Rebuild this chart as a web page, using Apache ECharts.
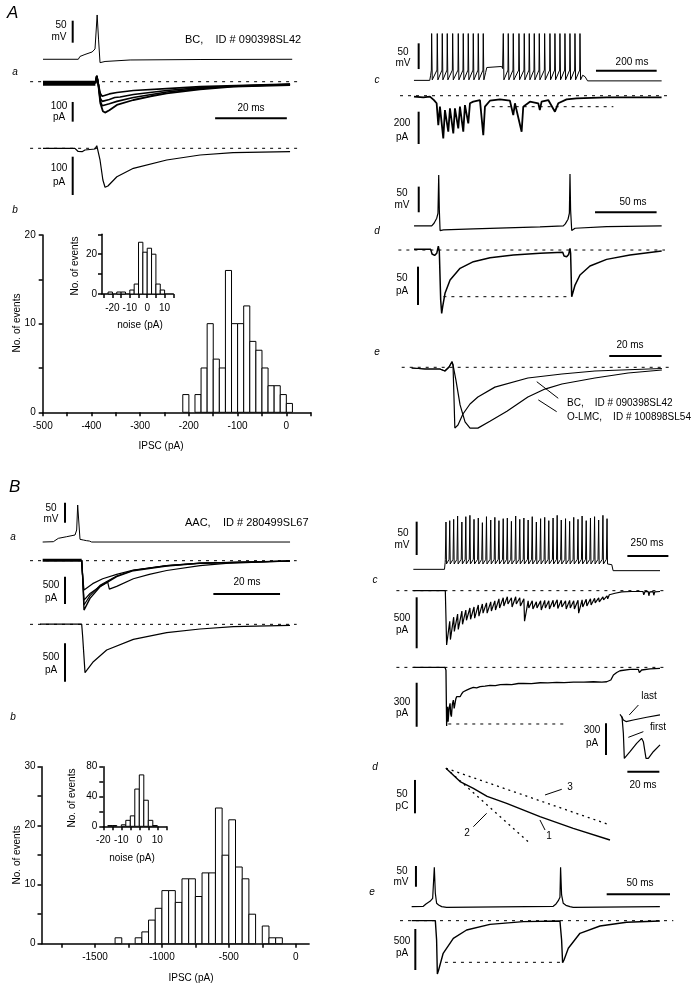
<!DOCTYPE html>
<html><head><meta charset="utf-8">
<script src="https://cdn.jsdelivr.net/npm/echarts@6/dist/echarts.min.js"></script>
<style>html,body{margin:0;padding:0;background:#fff}#c{width:696px;height:993px}</style>
</head><body><div id="c"></div>
<script>
// ================= DATA =================
// --- Histogram A (BC cell): IPSC amplitudes (pA), 12.5 pA bins
const histA_binStart = [-212.5,-200,-187.5,-175,-162.5,-150,-137.5,-125,-112.5,-100,-87.5,-75,-62.5,-50,-37.5,-25,-12.5,0];
const histA_counts   = [2,0,2,5,10,6,5,16,10,10,12,8,7,5,3,3,2,1];
const histA_binWidth = 12.5;
// --- Inset A: noise (pA), 2.5 pA bins
const noiseA_binStart = [-25,-22.5,-20,-17.5,-15,-12.5,-10,-7.5,-5,-2.5,0,2.5,5,7.5,10];
const noiseA_counts   = [0,1,0,1,1,0,2,5,26,21,23,20,5,2,0];
const noiseA_binWidth = 2.5;
// --- Histogram B (AAC cell): IPSC amplitudes (pA), 50 pA bins
const histB_binStart = [-1350,-1300,-1250,-1200,-1150,-1100,-1050,-1000,-950,-900,-850,-800,-750,-700,-650,-600,-550,-500,-450,-400,-350,-300,-250,-200,-150];
const histB_counts   = [1,0,0,1,2,4,6,9,9,7,11,11,8,12,12,23,15,21,13,11,5,0,3,1,1];
const histB_binWidth = 50;
// --- Inset B: noise (pA), 2.5 pA bins
const noiseB_binStart = [-20,-17.5,-15,-12.5,-10,-7.5,-5,-2.5,0,2.5,5,7.5,10,12.5];
const noiseB_counts   = [0,1,1,0,2,8,14,50,69,35,8,1,0,0];
const noiseB_binWidth = 2.5;

// tick label values
const histA_xLabels = [-500,-400,-300,-200,-100,0];
const histA_yLabels = [0,10,20];
const noiseA_xLabels = [-20,-10,0,10];
const noiseA_yLabels = [0,20];
const histB_xTicks  = [-1750,-1500,-1250,-1000,-750,-500,-250,0];
const histB_xLabels = [-1500,-1000,-500,0];
const histB_yLabels = [0,10,20,30];
const noiseB_xLabels = [-20,-10,0,10];
const noiseB_yLabels = [0,40,80];

// --- A a: BC presynaptic spike (ms, mV) and unitary IPSCs (ms, pA)
const A_a_V = [[0,-65],[9.85,-65],[10.3,-58.6],[11.7,-54.1],[13.7,-48.4],[14.5,-41.6],[15.1,35.7],[15.5,-21],[15.9,-72.7],[17.3,-70],[24.3,-66.6],[43.8,-65.5],[69.5,-65]];
const A_a_Ipre = [[0,-8],[14.6,-8]];
const A_a_I1 = [[14.6,-8],[15,29],[15.4,-10],[16,-110],[16.7,-150],[17.3,-157],[18.5,-145],[20.6,-118],[25.2,-93],[30,-74],[34.5,-59],[43.8,-39],[53.1,-25],[68.9,-17]];
const A_a_I2 = [[14.6,-8],[15,29],[15.4,-10],[16,-100],[16.5,-122],[17,-127],[18.5,-112],[20.6,-100],[25.2,-80],[34.5,-52],[43.8,-35],[53.1,-22],[68.9,-15]];
const A_a_I3 = [[14.6,-8],[15,29],[15.4,-10],[16,-85],[16.5,-100],[17,-102],[18.5,-90],[20,-80],[21.5,-78],[22,-88],[25.2,-65],[34.5,-45],[43.8,-30],[68.9,-13]];
const A_a_I4 = [[14.6,-8],[15,29],[15.4,-10],[16,-60],[16.5,-74],[17,-76],[18.5,-62],[20.6,-55],[25.2,-45],[34.5,-35],[43.8,-25],[68.9,-12]];
// --- A b: averaged IPSC (ms, pA)
const A_b_I = [[0,0],[8.9,0],[9.8,-8.4],[10.9,-8.9],[11.7,-4.4],[14.5,-1.8],[15,6.8],[15.3,3.4],[15.9,-30.5],[16.7,-82.8],[17.3,-101.8],[18.1,-98.4],[20.6,-74.2],[25.2,-52.2],[34.5,-30.5],[43.8,-17.5],[53,-11.5],[68.9,-8.9]];
// --- A c: burst firing (spike times, ms) and IPSCs (ms, pA)
const A_c_spikes1 = [58.3,76.8,93.3,109.7,127.5,146,162.4,178.9,195.4,211.9,228.3];
const A_c_spikes2 = [294.3,310.7,327.2,346,363.4,379.9,396.4,412.9,430.6,448.1,464.5,481,497.5,514,530.5,547];
const A_c_spikePeak = 26, A_c_threshold = -45, A_c_ahp = -64, A_c_rest = -65, A_c_plateau = -38;
const A_c_I = [[0,-6],[30.7,-10],[52.7,-6],[65.9,-27],[74.7,-47],[80.2,-182],[85.6,-68],[96.6,-264],[102.1,-89],[113.1,-223],[118.6,-78],[129.6,-233],[135,-78],[146,-202],[151.5,-68],[162.5,-223],[168,-58],[179,-171],[184.5,-47],[195.4,-37],[217.4,-27],[228.4,-244],[233.9,-68],[250.3,-31],[283.3,-23],[316.2,-31],[327.2,-120],[332.7,-47],[354.7,-223],[360.1,-68],[382.1,-37],[409.6,-47],[414.7,-89],[420.5,-37],[442.5,-27],[464.5,-99],[475.4,-47],[502.9,-23],[535.8,-17],[634.6,-10],[744.4,-10],[815.8,-10]];
// --- A d: paired spikes (ms, mV) and IPSCs (ms, pA)
const A_d_V = [[0,-65],[14.3,-65],[16.2,-59.8],[18.4,-50],[19.4,-40.3],[20,34.4],[20.5,-33.8],[21.1,-74.1],[23.8,-72.8],[48.1,-70.8],[75.1,-68.9],[102.1,-66.9],[121,-65],[122.6,-61.1],[124.8,-52],[125.9,-40.3],[126.4,36.3],[126.9,-33.8],[127.8,-74.1],[130.5,-69.5],[156.1,-66.3],[200.7,-65]];
const A_d_I = [[0,0.9],[13.5,0.9],[14.6,-5.2],[16.7,-7],[18.4,-4.3],[19.7,5.2],[20.5,-2.2],[21.6,-65.2],[22.4,-82.6],[23.2,-73.9],[25.1,-56.5],[29.2,-39.1],[37.3,-23.9],[48.1,-15.2],[61.6,-10],[80.5,-6.5],[102.1,-4.3],[120.5,-3],[121.6,-7.8],[123.7,-8.7],[125.3,-5.7],[126.4,2.2],[126.9,-4.3],[127.8,-60.9],[129.1,-58.7],[130.5,-45.7],[134.5,-32.6],[142.6,-20.9],[156.1,-12.2],[175,-6.5],[200.7,-1.3]];
// --- A e: normalised IPSCs, BC vs O-LMC (ms, normalised)
const A_e_BC = [[0,-0.011],[5.1,-0.027],[10.8,-0.027],[12.7,-0.059],[14.3,0.005],[15.4,0.089],[15.8,0.037],[16.2,-0.52],[16.5,-0.97],[17.7,-0.92],[19.6,-0.745],[22.3,-0.585],[25.3,-0.474],[31.8,-0.316],[44.4,-0.171],[57.4,-0.107],[70,-0.059],[95.6,-0.019]];
const A_e_OLMC = [[0,-0.011],[5.1,-0.027],[10.8,-0.027],[12.7,-0.059],[14.3,0.005],[15.4,0.089],[15.8,0.037],[16.9,-0.2],[18.5,-0.6],[20.4,-0.87],[22.3,-0.97],[25.3,-0.97],[29.9,-0.86],[36.4,-0.7],[44.4,-0.474],[50.9,-0.347],[57.4,-0.266],[70,-0.171],[82.7,-0.091],[95.6,-0.043]];

// --- B a: AAC spike (ms, mV) and unitary IPSCs (ms, pA)
const B_a_V = [[0,-65],[3.2,-64.2],[4.7,-55.8],[7.2,-51.7],[9.7,-47.5],[10.2,-35],[10.5,27.5],[10.8,-10],[11.2,-58.3],[12.2,-60],[13.2,-61.7],[14,-62.5],[14.7,-65],[74.2,-65]];
const B_a_Ipre = [[0,6],[11.7,6]];
const B_a_I1 = [[11.7,6],[12,-300],[12.4,-903],[14.2,-689],[17.2,-476],[22.2,-293],[27.2,-183],[37.2,-98],[47.2,-49],[74.2,-6]];
const B_a_I2 = [[11.7,6],[12,-300],[12.4,-811],[14.2,-640],[17.2,-450],[22.2,-280],[27.2,-175],[37.2,-92],[47.2,-45],[74.2,-6]];
const B_a_I3 = [[11.7,6],[12,-300],[12.4,-720],[14.2,-600],[17.2,-470],[19.5,-390],[20,-520],[22.2,-470],[27.2,-330],[32,-250],[37.2,-180],[47.2,-90],[55,-50],[74.2,-6]];
const B_a_I4 = [[11.7,6],[12,-300],[12.4,-537],[15,-420],[18,-330],[22.2,-250],[27.2,-170],[37.2,-92],[47.2,-45],[74.2,-6]];
// --- B b: averaged IPSC (ms, pA)
const B_b_I = [[-0.8,4],[11.7,4],[12,-161],[12.7,-630],[13.2,-604],[15.2,-487],[19.2,-335],[27.2,-196],[37.2,-109],[47.2,-61],[57.2,-30],[74.2,-13]];
// --- B c: long burst (spike times ms, peaks mV) and IPSCs
const B_c_spikes = [199,222,246,270,296,320,345,370,396,421,446,472,497,522,548,573,598,624,649,674,700,725,750,776,801,826,852,877,902,928,953,978,1004,1029,1054,1080,1105,1130,1156,1181];
const B_c_peaks  = [6,8,10,15,6,14,16,10,12,5,14,9,13,8,11,12,7,15,10,12,9,14,6,11,13,8,12,16,9,11,7,13,10,15,8,12,14,9,16,11];
const B_c_rest = -65, B_c_threshold = -50, B_c_ahp = -57, B_c_after = -67;
const B_c1_pre  = [0,-300,-260,-230,-200,-190,-170,-160,-140,-130,-120,-110,-100,-80,-70,-60,-70,-60,-70,-80,-100,-100,-110,-100,-95,-100,-95,-90,-95,-100,-95,-100,-95,-90,-85,-80,-75,-70,-60,-50];
const B_c1_peak = [-533,-480,-400,-380,-330,-290,-280,-270,-250,-220,-220,-200,-190,-170,-150,-130,-160,-130,-150,-300,-170,-180,-170,-190,-170,-180,-160,-175,-160,-180,-170,-180,-220,-160,-150,-140,-120,-110,-90,-80];
const B_c1_tail = [[1195,-40],[1230,-25],[1270,-12],[1330,-8],[1400,-8],[1405,-40],[1412,-10],[1432,-10],[1436,-50],[1442,-12],[1462,-10],[1466,-45],[1472,-12],[1504,-8]];
const B_c2_I = [[0,0],[193,0],[199,-20],[203,-400],[206,-300],[209,-268],[212,-370],[215,-382],[218,-280],[224,-245],[228,-320],[232,-336],[238,-250],[244,-223],[249,-280],[254,-291],[259,-215],[264,-200],[275,-210],[285,-200],[295,-180],[305,-166],[315,-170],[325,-155],[345,-145],[366,-136],[386,-140],[407,-132],[437,-128],[468,-123],[500,-125],[530,-117],[569,-116],[600,-118],[640,-110],[671,-109],[720,-111],[773,-105],[820,-106],[874,-102],[920,-104],[976,-100],[1040,-101],[1098,-98],[1150,-100],[1179,-98],[1204,-86],[1220,-52],[1240,-35],[1260,-23],[1321,-14],[1372,-14],[1378,-36],[1384,-26],[1392,-18],[1443,-11],[1504,-7]];
const B_ci_last  = [[0,0],[1,-22],[2.1,-54],[3.75,-69],[8.3,-54],[16.7,-28],[25,-6]];
const B_ci_first = [[1.25,-22],[2.1,-180],[2.7,-417],[3.75,-417],[6.25,-354],[10.4,-275],[13.5,-227],[14.6,-259],[16.25,-417],[17.7,-417],[20.8,-354],[25,-290]];
// --- B d: cumulative charge (ms, pC)
const B_d_1 = [[199,0],[285,-20],[366,-30],[450,-42],[569,-52.5],[772,-72.6],[975,-90],[1199,-107.5]];
const B_d_2 = [[199,0],[711,-112.5]];
const B_d_3 = [[199,0],[1199,-85]];
// --- B e: paired spikes (ms, mV) and IPSCs (ms, pA)
const B_e_V = [[0,-65],[9.2,-64.2],[11.3,-58.5],[14.5,-52.1],[16.6,-44.8],[17.9,30.2],[18.7,-32.7],[19.7,-56.9],[21.3,-61],[23.7,-65],[27.6,-66.6],[111.8,-64.2],[114,-58.5],[115.8,-50.5],[117.1,-42.4],[117.6,30.2],[118.4,-36.8],[119.7,-56.9],[121.8,-61.8],[125,-65],[127.6,-66.6],[196,-65]];
const B_e_I = [[0,0],[18.7,0],[19.7,-236],[20.3,-650],[21.3,-602],[24.9,-398],[32.9,-215],[43.4,-114],[61.8,-45],[88.2,-12],[117.1,-4],[118.4,-236],[119.2,-512],[120.3,-480],[123.7,-337],[132.9,-154],[148.7,-65],[169.7,-20],[196,-4]];

// scale bars (data units)
const SB = {
  Aav:[[8.28,-27.3],[8.28,22.7]], Aai:[[8.28,-103],[8.28,-203]], Aat:[[48,-186],[68,-186]], Abi:[[8.28,-21.9],[8.28,-121.9]],
  Acv:[[15.5,-43],[15.5,7]], Act:[[599.7,-46.3],[799.7,-46.3]], Aci:[[15.4,-99],[15.4,-299]],
  Adv:[[3.8,-38.4],[3.8,11.6]], Adt:[[146.7,-38.4],[196.6,-38.4]], Adi:[[3.2,-21.7],[3.2,-71.7]],
  Aet:[[75.5,0.18],[95.5,0.18]],
  Bav:[[6.7,-16.7],[6.7,33.3]], Bai:[[6.7,-293],[6.7,-793]], Bat:[[51.2,-610],[71.2,-610]], Bbi:[[6.7,-248],[6.7,-748]],
  Bcv:[[20.3,-43.5],[20.3,6.5]], Bct:[[1305,-45],[1555,-45]], Bc1:[[20.3,-65],[20.3,-565]], Bc2:[[20.3,-105],[20.3,-405]],
  Bci:[[-8.75,-85],[-8.75,-385]], Bcit:[[4.6,-543],[24.6,-543]],
  Bd:[[10,-17.5],[10,-67.5]],
  Bev:[[3.4,-16.6],[3.4,33.4]], Bet:[[154,-35.2],[204,-35.2]], Bei:[[2.9,-102],[2.9,-602]]
};

// ================= LAYOUT =================
const FONT = '"Liberation Sans", Arial, Helvetica, sans-serif';
const P = {
  HA:  {left:42.7, top:235, width:268, height:177.3, xMin:-500, xMax:50, yMin:0, yMax:20},
  HAi: {left:102, top:234.3, width:71.3, height:59.7, xMin:-26, xMax:15, yMin:0, yMax:30},
  HB:  {left:41.5, top:766.7, width:267.6, height:177, xMin:-1900, xMax:100, yMin:0, yMax:30},
  HBi: {left:103.3, top:766.7, width:63, height:59.6, xMin:-20, xMax:15, yMin:0, yMax:80},
  Aav: {left:30.1, top:10, width:270, height:55, xMin:-3.6, xMax:71.7, yMin:-78, yMax:47},
  Aai: {left:30.1, top:75, width:270, height:50, xMin:-3.6, xMax:71.7, yMin:-220, yMax:34},
  Abi: {left:30.1, top:140, width:270, height:60, xMin:-3.6, xMax:71.7, yMin:-135, yMax:21.7},
  Acv: {left:400, top:27.9, width:268, height:57.1, xMin:-46, xMax:837, yMin:-74, yMax:37},
  Aci: {left:400, top:87.95, width:268, height:60.1, xMin:-46, xMax:837, yMin:-324, yMax:48},
  Adv: {left:398, top:170, width:270.2, height:64.9, xMin:-13, xMax:206, yMin:-82.5, yMax:44},
  Adi: {left:398, top:243.9, width:270.2, height:75.1, xMin:-13, xMax:206, yMin:-90, yMax:8},
  Ae:  {left:401.7, top:350, width:268.3, height:85, xMin:-3.8, xMax:98.7, yMin:-1.08, yMax:0.276},
  Bav: {left:30, top:500, width:266.7, height:46.7, xMin:-3.8, xMax:76.2, yMin:-76.7, yMax:40},
  Bai: {left:30, top:555, width:266.7, height:58.4, xMin:-3.8, xMax:76.2, yMin:-964, yMax:104},
  Bbi: {left:30, top:620, width:266.7, height:66.7, xMin:-3.8, xMax:76.2, yMin:-813, yMax:56.5},
  Bcv: {left:396.6, top:510, width:272.6, height:65, xMin:-102, xMax:1560, yMin:-73.5, yMax:24},
  Bc1: {left:396.6, top:585, width:272.6, height:65, xMin:-102, xMax:1560, yMin:-582, yMax:55.6},
  Bc2: {left:396.6, top:661.7, width:272.6, height:68.3, xMin:-102, xMax:1560, yMin:-427, yMax:38.6},
  Bci: {left:600, top:693.3, width:68, height:83.4, xMin:-12.5, xMax:30, yMin:-590.6, yMax:199},
  Bd:  {left:396.6, top:760, width:272.6, height:90, xMin:-102, xMax:1560, yMin:-122.5, yMax:12.4},
  Bev: {left:400, top:863.3, width:273.3, height:46.7, xMin:-9.2, xMax:206.6, yMin:-73.1, yMax:39.8},
  Bei: {left:400, top:915, width:273.3, height:65, xMin:-9.2, xMax:206.6, yMin:-723.6, yMax:69}
};

const grids=[], xAxes=[], yAxes=[], series=[], G={};
function addPanel(name, xa, ya){
  const p=P[name], i=grids.length; G[name]=i;
  grids.push({left:p.left, top:p.top, width:p.width, height:p.height});
  xAxes.push(Object.assign({type:'value', gridIndex:i, min:p.xMin, max:p.xMax, show:false, splitLine:{show:false}}, xa||{}));
  yAxes.push(Object.assign({type:'value', gridIndex:i, min:p.yMin, max:p.yMax, show:false, splitLine:{show:false}}, ya||{}));
  return i;
}
function L(name, data, w, dash){
  const g=G[name];
  series.push({type:'line', xAxisIndex:g, yAxisIndex:g, data:data, symbol:'none', showSymbol:false, clip:false, silent:true, animation:false,
    lineStyle:{color:'#000', width:w||1, type:dash||'solid'}});
}
function Hist(name, starts, counts, w){
  const g=G[name];
  series.push({type:'custom', xAxisIndex:g, yAxisIndex:g, clip:false, animation:false, silent:true,
    data: starts.map((s,i)=>[s, s+w, counts[i]]), encode:{x:[0,1], y:2},
    renderItem:function(params, api){
      if(api.value(2)<=0) return null;
      const a=api.coord([api.value(0),0]), b=api.coord([api.value(1),api.value(2)]);
      return {type:'rect', shape:{x:a[0], y:b[1], width:b[0]-a[0], height:a[1]-b[1]}, style:{fill:'#fff', stroke:'#000', lineWidth:1}};
    }});
}
const axLine = {show:true, onZero:false, lineStyle:{color:'#000', width:1.5}};
const axTick = {show:true, length:4, lineStyle:{color:'#000', width:1.5}};
function lab(vals, margin, extra){ return Object.assign({show:true, color:'#000', fontSize:10, fontFamily:FONT, margin:margin,
  formatter:function(v){ return vals.indexOf(Math.round(v))>=0 ? String(Math.round(v)) : ''; }}, extra||{}); }

// histogram panels
addPanel('HA', {show:true, interval:50, axisLine:axLine, axisTick:axTick, axisLabel:lab(histA_xLabels,9)},
               {show:true, interval:5, axisLine:axLine, axisTick:axTick, axisLabel:lab(histA_yLabels,7)});
addPanel('HAi', {show:true, axisLine:axLine, axisTick:Object.assign({customValues:[-25,-20,-15,-10,-5,0,5,10,15]}, axTick),
                 axisLabel:lab(noiseA_xLabels,9,{customValues:noiseA_xLabels})},
                {show:true, interval:10, axisLine:axLine, axisTick:axTick, axisLabel:lab(noiseA_yLabels,5)});
addPanel('HB', {show:true, axisLine:axLine, axisTick:Object.assign({customValues:histB_xTicks}, axTick),
                axisLabel:lab(histB_xLabels,9,{customValues:histB_xLabels})},
               {show:true, interval:5, axisLine:axLine, axisTick:axTick, axisLabel:lab(histB_yLabels,6)});
addPanel('HBi', {show:true, interval:5, axisLine:axLine, axisTick:axTick, axisLabel:lab(noiseB_xLabels,9)},
                {show:true, interval:20, axisLine:axLine, axisTick:axTick, axisLabel:lab(noiseB_yLabels,6)});
Hist('HA', histA_binStart, histA_counts, histA_binWidth);
Hist('HAi', noiseA_binStart, noiseA_counts, noiseA_binWidth);
Hist('HB', histB_binStart, histB_counts, histB_binWidth);
Hist('HBi', noiseB_binStart, noiseB_counts, noiseB_binWidth);

// trace panels
['Aav','Aai','Abi','Acv','Aci','Adv','Adi','Ae','Bav','Bai','Bbi','Bcv','Bc1','Bc2','Bci','Bd','Bev','Bei'].forEach(n=>addPanel(n));
const DASH=[3,5], DOT=[2,4];

// build spike waveforms from spike times
function burstA(){
  const d=[[0,A_c_rest],[52,A_c_rest],[55,-55]];
  A_c_spikes1.forEach(t=>{d.push([t-1,A_c_threshold],[t,A_c_spikePeak],[t+2,A_c_ahp]);});
  d.push([236,-50],[240,-40],[289,A_c_plateau],[292,-42]);
  A_c_spikes2.forEach(t=>{d.push([t-1,A_c_threshold],[t,A_c_spikePeak],[t+2,A_c_ahp]);});
  d.push([556,-55],[560,-52],[564,-58],[572,-66],[816,-66]);
  return d;
}
function burstB(){
  const d=[[0,B_c_rest],[190,B_c_rest],[194,-55]];
  B_c_spikes.forEach((t,i)=>{d.push([t-4,B_c_threshold],[t,B_c_peaks[i]],[t+3,B_c_ahp]);});
  d.push([1195,-56],[1210,-58],[1218,B_c_after],[1504,B_c_after]);
  return d;
}
function ipscB(){
  const d=[[0,0],[195,0]];
  B_c_spikes.forEach((t,i)=>{d.push([t,B_c1_pre[i]],[t+4,B_c1_peak[i]]);});
  return d.concat(B_c1_tail);
}

// A a
L('Aav', A_a_V, 1); L('Aav', SB.Aav, 2);
L('Aai', [[-3.6,0],[71.7,0]], 1, DASH);
L('Aai', A_a_Ipre, 5);
L('Aai', A_a_I4, 1.6); L('Aai', A_a_I3, 1.6); L('Aai', A_a_I2, 1.6); L('Aai', A_a_I1, 1.8);
L('Aai', SB.Aai, 2); L('Aai', SB.Aat, 2);
L('Abi', [[-3.6,0],[71.7,0]], 1, DASH); L('Abi', A_b_I, 1.2); L('Abi', SB.Abi, 2);
// A c
L('Acv', burstA(), 1); L('Acv', SB.Acv, 2); L('Acv', SB.Act, 2);
L('Aci', [[-46,0],[838,0]], 1, DASH); L('Aci', [[256,-68],[657,-68]], 1, DASH);
L('Aci', A_c_I, 1.8); L('Aci', SB.Aci, 2);
// A d
L('Adv', A_d_V, 1.2); L('Adv', SB.Adv, 2); L('Adv', SB.Adt, 2);
L('Adi', [[-12.7,0],[203.4,0]], 1, DASH); L('Adi', [[23.8,-60.9],[126.4,-60.9]], 1, DASH);
L('Adi', A_d_I, 1.5); L('Adi', SB.Adi, 2);
// A e
L('Ae', [[-3.8,0],[98.7,0]], 1, DASH); L('Ae', A_e_BC, 1.2); L('Ae', A_e_OLMC, 1.2); L('Ae', SB.Aet, 2);
L('Ae', [[47.8,-0.23],[56,-0.494]], 1); L('Ae', [[48.4,-0.52],[55.4,-0.708]], 1);
// B a
L('Bav', B_a_V, 1); L('Bav', SB.Bav, 2);
L('Bai', [[-3.8,0],[76.2,0]], 1, DASH); L('Bai', B_a_Ipre, 3);
L('Bai', B_a_I4, 1.2); L('Bai', B_a_I3, 1.2); L('Bai', B_a_I2, 1.2); L('Bai', B_a_I1, 1.4);
L('Bai', SB.Bai, 2); L('Bai', SB.Bat, 2);
L('Bbi', [[-3.8,0],[76.2,0]], 1, DASH); L('Bbi', B_b_I, 1.2); L('Bbi', SB.Bbi, 2);
// B c
L('Bcv', burstB(), 1); L('Bcv', SB.Bcv, 2); L('Bcv', SB.Bct, 2);
L('Bc1', [[-152,0],[1530,0]], 1, DASH); L('Bc1', ipscB(), 1.2); L('Bc1', SB.Bc1, 2);
L('Bc2', [[-152,0],[1530,0]], 1, DASH); L('Bc2', [[213,-386],[925,-386]], 1, DASH);
L('Bc2', B_c2_I, 1.3); L('Bc2', SB.Bc2, 2);
L('Bci', B_ci_last, 1.2); L('Bci', B_ci_first, 1.2); L('Bci', SB.Bci, 2); L('Bci', SB.Bcit, 2);
L('Bci', [[5.8,-6],[11.5,88]], 1); L('Bci', [[5.2,-218],[14.6,-164]], 1);
// B d
L('Bd', B_d_1, 1.4); L('Bd', B_d_2, 1.3, DOT); L('Bd', B_d_3, 1.3, DOT); L('Bd', SB.Bd, 2);
L('Bd', [[803,-40],[905,-31.5]], 1); L('Bd', [[366,-87.6],[447,-67.5]], 1); L('Bd', [[772,-77.5],[803,-92.5]], 1);
// B e
L('Bev', B_e_V, 1.2); L('Bev', SB.Bev, 2); L('Bev', SB.Bet, 2);
L('Bei', [[-9.2,0],[206.6,0]], 1, DASH); L('Bei', [[26.3,-508],[118.4,-508]], 1, DASH);
L('Bei', B_e_I, 1.4); L('Bei', SB.Bei, 2);

// ================= TEXT =================
function T(x,y,text,o){ o=o||{};
  return {type:'text', x:x, y:y, rotation:o.rot||0, silent:true, z:100,
    style:{text:text, fontSize:o.size||10, fontFamily:FONT, fontStyle:o.it?'italic':'normal', fill:'#000',
      align:o.align||'center', verticalAlign:'middle'}}; }
const texts = [
  T(7,13,'A',{size:17,it:true,align:'left'}), T(9,487,'B',{size:17,it:true,align:'left'}),
  T(15,72,'a',{it:true}), T(15,210,'b',{it:true}), T(13,537,'a',{it:true}), T(13,717,'b',{it:true}),
  T(377,80,'c',{it:true}), T(377,231,'d',{it:true}), T(377,352,'e',{it:true}),
  T(375,580,'c',{it:true}), T(375,767,'d',{it:true}), T(372,892,'e',{it:true}),
  // A left
  T(185,40,'BC,    ID # 090398SL42',{size:11,align:'left'}),
  T(61,25,'50'), T(59,37,'mV'), T(59,106,'100'), T(59,117.5,'pA'), T(251,108,'20 ms'),
  T(59,168,'100'), T(59,182,'pA'),
  // A right
  T(403,52,'50'), T(403,63.5,'mV'), T(632,62,'200 ms'), T(402,123,'200'), T(402,137,'pA'),
  T(402,193,'50'), T(402,205,'mV'), T(633,202,'50 ms'), T(402,278,'50'), T(402,291,'pA'),
  T(630,345,'20 ms'),
  T(567,403,'BC,    ID # 090398SL42',{align:'left'}), T(567,417,'O-LMC,    ID # 100898SL54',{align:'left'}),
  // histograms A
  T(17,323,'No. of events',{rot:Math.PI/2}), T(161,446,'IPSC (pA)'),
  T(75,266,'No. of events',{rot:Math.PI/2}), T(140,325,'noise (pA)'),
  // B left
  T(185,523,'AAC,    ID # 280499SL67',{size:11,align:'left'}),
  T(51,508,'50'), T(51,519.5,'mV'), T(51,585,'500'), T(51,598,'pA'), T(247,582,'20 ms'),
  T(51,657,'500'), T(51,670,'pA'),
  // B right
  T(403,533,'50'), T(402,545,'mV'), T(647,543,'250 ms'), T(402,618,'500'), T(402,630,'pA'),
  T(402,702,'300'), T(402,713.5,'pA'), T(592,730,'300'), T(592,743.5,'pA'),
  T(649,696,'last'), T(658,727,'first'), T(643,785,'20 ms'),
  T(402,794,'50'), T(402,806,'pC'), T(570,787,'3'), T(467,833,'2'), T(549,836,'1'),
  T(402,871,'50'), T(401,882,'mV'), T(640,883,'50 ms'), T(402,941,'500'), T(402,953,'pA'),
  // histograms B
  T(17,855,'No. of events',{rot:Math.PI/2}), T(191,978,'IPSC (pA)'),
  T(72,798,'No. of events',{rot:Math.PI/2}), T(132,858,'noise (pA)')
];

const chart = echarts.init(document.getElementById('c'), null, {renderer:'canvas', width:696, height:993});
chart.setOption({
  backgroundColor:'#fff', animation:false,
  grid:grids, xAxis:xAxes, yAxis:yAxes, series:series, graphic:texts
});
</script>
</body></html>
